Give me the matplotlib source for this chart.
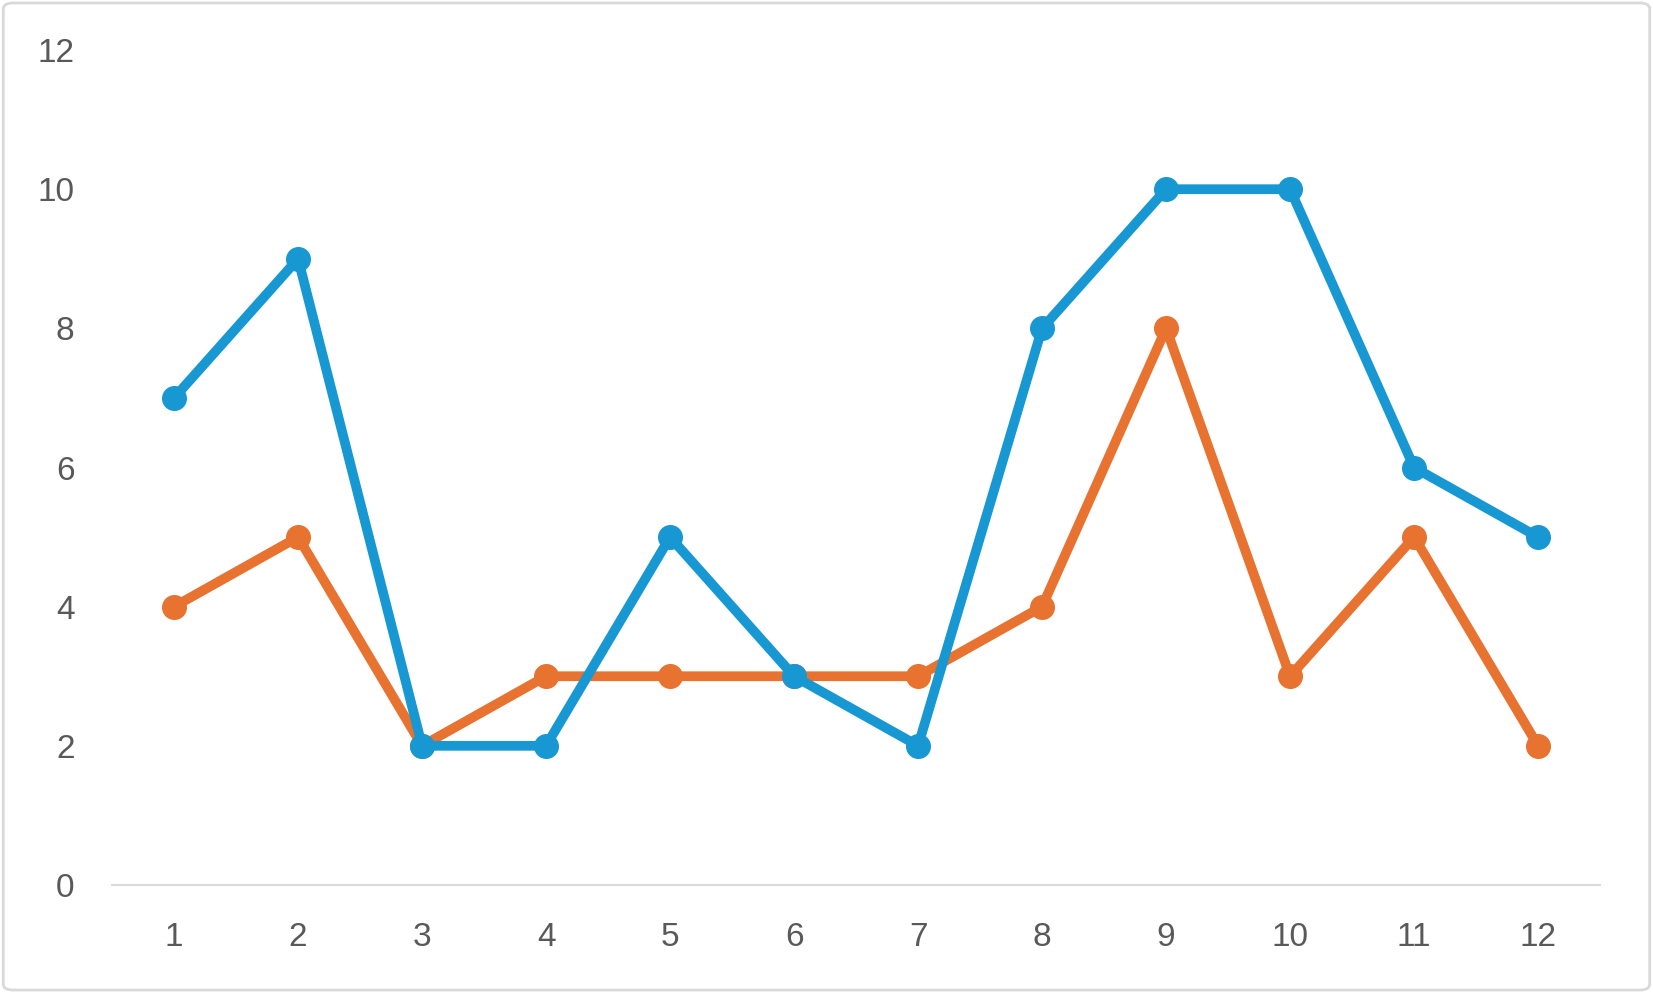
import matplotlib.pyplot as plt
from matplotlib.patches import FancyBboxPatch

# Data
months = list(range(1, 13))
blue_vals = [7, 9, 2, 2, 5, 3, 2, 8, 10, 10, 6, 5]
orange_vals = [4, 5, 2, 3, 3, 3, 3, 4, 8, 3, 5, 2]
y_ticks = [0, 2, 4, 6, 8, 10, 12]

plt.rcParams['font.family'] = ['Liberation Sans', 'DejaVu Sans']

fig = plt.figure(figsize=(16.53, 9.93), dpi=100)
ax = fig.add_axes([0.0678, 0.1088, 0.9002, 0.8408])

# light border around the chart area
fig.patches.append(FancyBboxPatch((0.002, 0.003), 0.996, 0.994,
                                  boxstyle="round,pad=0,rounding_size=0.006",
                                  transform=fig.transFigure, fill=False,
                                  edgecolor='#d9d9d9', linewidth=2))

ax.plot(months, orange_vals, color='#e8722f', linewidth=7, marker='o',
        markersize=17, solid_capstyle='round', zorder=3)
ax.plot(months, blue_vals, color='#1898d2', linewidth=7, marker='o',
        markersize=17, solid_capstyle='round', zorder=4)

ax.set_xlim(0.5, 12.5)
ax.set_ylim(0, 12)
ax.set_xticks(months)
ax.set_yticks(y_ticks)

for s in ['top', 'right', 'left']:
    ax.spines[s].set_visible(False)
ax.spines['bottom'].set_color('#d9d9d9')
ax.spines['bottom'].set_linewidth(1.5)

ax.tick_params(axis='both', length=0, labelsize=24, labelcolor='#595959')
ax.tick_params(axis='y', pad=27)
ax.tick_params(axis='x', pad=27)
for line in ax.lines:
    line.set_clip_on(False)

fig.savefig('out.png', dpi=100)
